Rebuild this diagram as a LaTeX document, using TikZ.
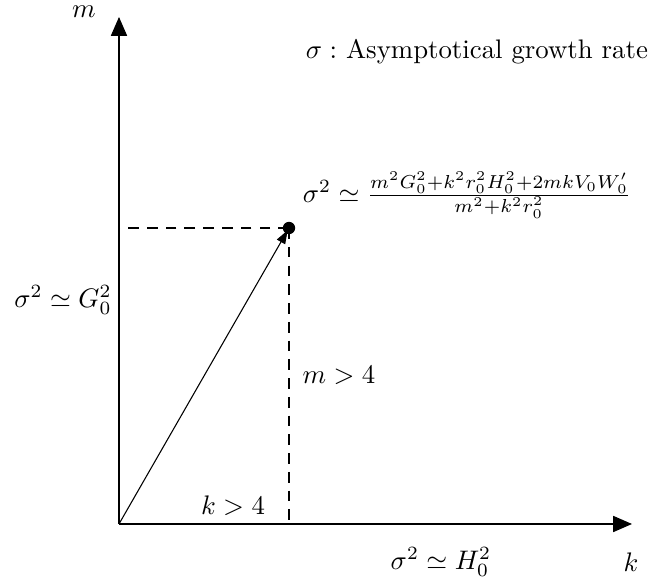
\documentclass[tikz,border=0pt]{standalone}
\usepackage{amsmath}
\usetikzlibrary{arrows.meta}
\begin{document}
\begin{tikzpicture}[x=0.373pt,y=0.373pt,yscale=-1,xscale=1]
			\useasboundingbox (0,0) rectangle (669,580);
			
			% Axes
			\coordinate (O) at (119,524);
			\coordinate (ytip) at (119,17);
			\coordinate (xtip) at (632,524);
			\coordinate (P) at (289,228);
			\coordinate (vend) at (289,520);
			\draw [-{Triangle[length=7pt,width=6pt]}]  (O) -- (ytip) ;
			\draw [-{Triangle[length=7pt,width=6pt]}]  (O) -- (xtip) ;
			%Straight Lines: vector
			\draw [-{Triangle[length=5pt,width=3.5pt]}, shorten >=1pt]  (O) -- (P) ;
			\fill (P) circle [radius=2.3pt] ;
			%Straight Lines: dashed guides
			\draw  [dash pattern={on 4pt off 3pt}]  (P) -- (O |- P) ;
			\draw  [dash pattern={on 4pt off 3pt}]  (P) -- (vend) ;
			
			% Text Node
			\node (mlab) at (84,12) {$m$};
			% Text Node
			\node (klab) at (631,562) {$k$};
			% Text Node
			\node (title) at (477,52) {$\sigma:$ Asymptotical growth rate};
			% Text Node
			\node (formula) at (467,195) {$\sigma^2\simeq\frac{m^2G_0^2+k^2r_0^2H_0^2+2mkV_0W_0'}{m^2+k^2r_0^2}$};
			% Text Node
			\node (Glab) at (63,300) {$\sigma^2\simeq G_0^2$};
			% Text Node
			\node (mcond) at (339,375) {$m>4$};
			% Text Node
			\node (kcond) at (233,506) {$k>4$};
			% Text Node
			\node (Hlab) at (441,562) {$\sigma^2\simeq H_0^2$};
\end{tikzpicture}
\end{document}
